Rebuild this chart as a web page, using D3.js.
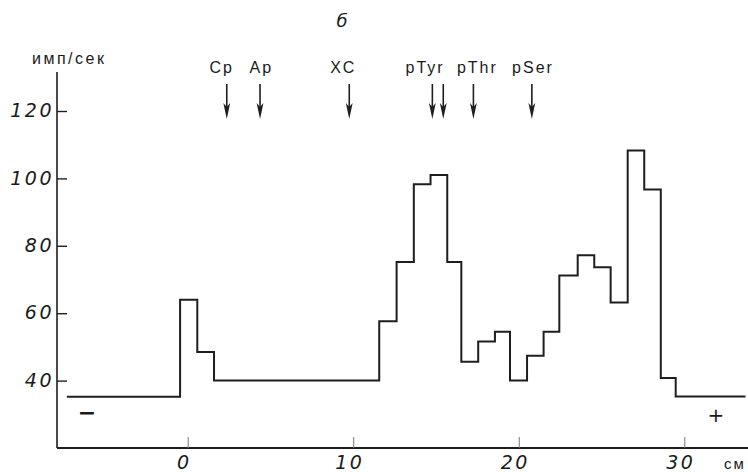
<!DOCTYPE html>
<html>
<head>
<meta charset="utf-8">
<script src="https://cdn.jsdelivr.net/npm/d3@7"></script>
<style>
  body{margin:0;background:#fff}
  svg{display:block}
  text{fill:#1a1a1a}
</style>
</head>
<body>
<svg id="board" width="748" height="472"></svg>
<script>
    // bin edges along the strip (cm) and the count level in each bin
    var edgesCm = [-7.3, -0.46, 0.58, 1.59, 11.57, 12.62, 13.66, 14.67, 15.68, 16.53, 17.55, 18.56, 19.47, 20.5, 21.5, 22.45, 23.56, 24.56, 25.55, 26.58, 27.58, 28.58, 29.48, 33.7]
    var counts = [35.2, 64, 48.5, 40, 57.6, 75.2, 98.3, 101, 75.2, 45.6, 51.6, 54.5, 40, 47.4, 54.5, 71.2, 77.2, 73.6, 63.2, 108.3, 96.7, 40.8, 35.3]

    var yTicks = [40, 60, 80, 100, 120]
    var xTicks = [0, 10, 20, 30]

    // marker spots (cm) with their names
    var markerNames = ["Cp", "Ap", "XC", "pTyr", "pThr", "pSer"]
    var markerLabelCm = [2.05, 4.45, 9.4, 14.34, 17.5, 20.86]
    var markerArrowCm = [[2.36], [4.37], [9.76], [14.78, 15.44], [17.26], [20.79]]

    var svg = d3.select("#board")

    var x = d3.scaleLinear().domain([0, 30]).range([187.7, 684.3])
    var y = d3.scaleLinear().domain([20, 120]).range([448, 111])

    var axisX = 57
    var ink = "#1e1e1e"
    var digitFont = "'Liberation Sans Narrow','DejaVu Sans',sans-serif"

    // vertical axis line
    svg.append("line").attr("x1", axisX).attr("x2", axisX).attr("y1", 72).attr("y2", y(20))
      .attr("stroke", ink).attr("stroke-width", 1.6)

    var gy = svg.append("g").attr("transform", "translate(" + axisX + ",0)")
      .call(d3.axisLeft(y).tickValues(yTicks).tickSize(-10).tickSizeOuter(0).tickPadding(3))
    gy.select(".domain").remove()
    gy.selectAll(".tick line").attr("stroke", ink).attr("stroke-width", 1.4)
    gy.selectAll(".tick text").attr("fill", ink).style("font-family", digitFont).style("font-style", "italic")
      .style("font-size", "19px").style("letter-spacing", "2.5px").attr("dy", "0.3em")

    // horizontal axis
    var gx = svg.append("g").attr("transform", "translate(0," + y(20) + ")")
      .call(d3.axisBottom(x).tickValues(xTicks).tickSize(-11).tickSizeOuter(0).tickPadding(8))
    gx.select(".domain").attr("d", "M" + axisX + ",0H748").attr("stroke", ink).attr("stroke-width", 1.8)
    gx.selectAll(".tick line").attr("stroke", "#777").attr("stroke-width", 1)
    gx.selectAll(".tick text").attr("fill", ink).attr("dx", -4).style("font-family", digitFont).style("font-style", "italic")
      .style("font-size", "19px").style("letter-spacing", "2.5px")

    svg.append("text").attr("x", 724).attr("y", 469).text("см")
      .style("font-family", "'Liberation Sans',sans-serif").style("font-size", "15px").style("letter-spacing", "2px")

    // step histogram
    var pts = counts.map(function(v, i){ return [edgesCm[i], v] })
    pts.push([edgesCm[edgesCm.length - 1], counts[counts.length - 1]])
    var line = d3.line().x(function(d){ return x(d[0]) }).y(function(d){ return y(d[1]) }).curve(d3.curveStepAfter)
    svg.append("path").attr("d", line(pts)).attr("fill", "none").attr("stroke", ink)
      .attr("stroke-width", 2).attr("stroke-linejoin", "miter")

    // y unit + panel letter
    svg.append("text").attr("x", 32).attr("y", 64).text("имп/сек")
      .style("font-family", "'Liberation Sans',sans-serif").style("font-size", "16px").style("letter-spacing", "2.5px")
    svg.append("text").attr("x", 342).attr("y", 27).attr("text-anchor", "middle").text("б")
      .style("font-family", "'DejaVu Sans',sans-serif").style("font-style", "italic").style("font-size", "18px")

    // electrode signs
    svg.append("text").attr("x", 87).attr("y", 420).attr("text-anchor", "middle").text("−")
      .style("font-family", "'DejaVu Sans',sans-serif").style("font-size", "22px").style("font-weight", "bold")
    svg.append("text").attr("x", 716).attr("y", 422).attr("text-anchor", "middle").text("+")
      .style("font-family", "'DejaVu Sans',sans-serif").style("font-size", "20px")

    // markers
    svg.selectAll(".mlabel").data(markerNames).enter().append("text").attr("class", "mlabel")
      .attr("x", function(d, i){ return x(markerLabelCm[i]) }).attr("y", 73).attr("text-anchor", "middle")
      .text(function(d){ return d })
      .style("font-family", "'Liberation Sans',sans-serif").style("font-size", "16px").style("letter-spacing", "2px")

    var arrows = []
    markerArrowCm.forEach(function(a){ a.forEach(function(c){ arrows.push(c) }) })
    var ag = svg.selectAll(".arrow").data(arrows).enter().append("g").attr("class", "arrow")
      .attr("transform", function(d){ return "translate(" + x(d) + ",0)" })
    ag.append("line").attr("x1", 0).attr("x2", 0).attr("y1", 84).attr("y2", 110).attr("stroke", ink).attr("stroke-width", 1.6)
    ag.append("path").attr("d", "M-3.4,103L0,119L3.4,103L0,107Z").attr("fill", ink)
</script>
</body>
</html>
